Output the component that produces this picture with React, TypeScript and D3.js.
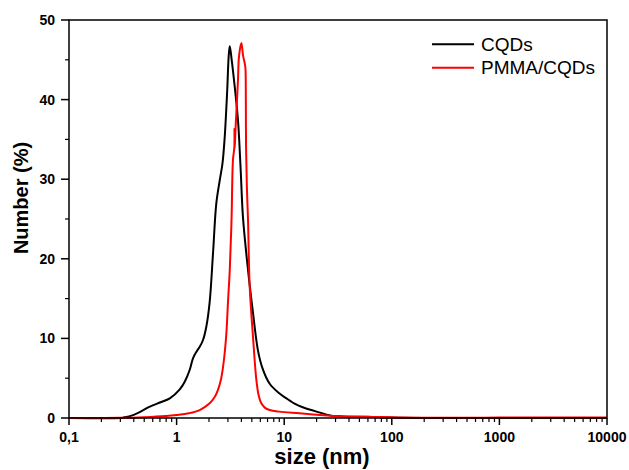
import React from "react";
import * as d3 from "d3";

// ---- data ----
const cqdSize = [0.1, 0.3, 0.32, 0.4, 0.564, 0.7, 0.865, 1.07, 1.19, 1.32, 1.42, 1.53, 1.65, 1.76, 1.89, 2.03, 2.18, 2.34, 2.52, 2.67, 2.8, 2.95, 3.05, 3.12, 3.25, 3.47, 3.72, 3.93, 4.14, 4.61, 5.13, 5.7, 6.3, 7.33, 9.0, 10.4, 12.9, 14.9, 20, 27.3, 35, 60, 100, 200, 10000];
const cqdNumber = [0, 0, 0.05, 0.4, 1.42, 1.95, 2.47, 3.6, 4.56, 6.0, 7.5, 8.33, 9.0, 9.8, 11.5, 14.6, 20.7, 27.0, 29.9, 32.0, 35.3, 41.0, 45.5, 46.7, 45.0, 41.6, 37.4, 31.5, 25.2, 18.6, 13.2, 8.5, 6.2, 4.3, 3.1, 2.5, 1.7, 1.35, 0.8, 0.3, 0.2, 0.15, 0.05, 0, 0];

const pmmaSize = [0.1, 0.3, 0.5, 0.8, 1.0, 1.3, 1.64, 2.03, 2.25, 2.42, 2.58, 2.7, 2.8, 2.9, 3.01, 3.12, 3.24, 3.34, 3.44, 3.45, 3.47, 3.52, 3.59, 3.72, 3.8, 4.0, 4.15, 4.29, 4.36, 4.4, 4.42, 4.5, 4.61, 4.78, 5.13, 5.51, 5.8, 6.13, 6.6, 7.33, 9.0, 13.9, 20, 28.3, 50, 80, 120, 200, 1000, 10000];
const pmmaNumber = [0, 0.02, 0.1, 0.25, 0.38, 0.6, 1.0, 1.84, 2.6, 3.5, 4.8, 6.4, 8.2, 10.6, 14.8, 18.6, 24.9, 32.4, 34.0, 36.3, 33.9, 36.0, 38.3, 42.5, 45.4, 47.1, 45.5, 44.6, 44.0, 40.0, 34.0, 29.0, 24.9, 16.5, 10.2, 4.8, 2.8, 1.84, 1.3, 1.0, 0.8, 0.59, 0.4, 0.25, 0.15, 0.12, 0.05, 0.03, 0.05, 0.05];

const seriesNames = ["CQDs", "PMMA/CQDs"];
const seriesColors = ["#000000", "#ff0000"];

const xTickValues = [0.1, 1, 10, 100, 1000, 10000];
const xTickLabels = ["0,1", "1", "10", "100", "1000", "10000"];
const yTickValues = [0, 10, 20, 30, 40, 50];
const yMinorValues = [5, 15, 25, 35, 45];

const FONT = "'Liberation Sans', Arial, Helvetica, sans-serif";

export default function App() {
  const W = 629, H = 470;
  const left = 69, right = 607, top = 20, bottom = 418;
  const x = d3.scaleLog().domain([0.1, 10000]).range([left, right]);
  const y = d3.scaleLinear().domain([0, 50]).range([bottom, top]);

  const line = d3
    .line<[number, number]>()
    .x((d) => x(d[0]))
    .y((d) => y(d[1]))
    .curve(d3.curveCatmullRom.alpha(0.5));

  const cqd: [number, number][] = cqdSize.map((s, i) => [s, cqdNumber[i]]);
  const pmma: [number, number][] = pmmaSize.map((s, i) => [s, pmmaNumber[i]]);

  const xMinor: number[] = [];
  for (let dec = 0.1; dec < 10000; dec *= 10) {
    for (let k = 2; k <= 9; k++) xMinor.push(dec * k);
  }

  return (
    <svg
      width={W}
      height={H}
      style={{ position: "absolute", left: 0, top: 0, background: "#fff" }}
      fontFamily={FONT}
    >
      <rect x={0} y={0} width={W} height={H} fill="#fff" />
      {/* curves */}
      <path d={line(cqd) || ""} fill="none" stroke={seriesColors[0]} strokeWidth={2} />
      <path d={line(pmma) || ""} fill="none" stroke={seriesColors[1]} strokeWidth={2} />

      {/* frame */}
      <rect x={left} y={top} width={right - left} height={bottom - top} fill="none" stroke="#000" strokeWidth={1.5} />

      {/* x ticks */}
      {xTickValues.map((v, i) => (
        <g key={"xt" + i}>
          <line x1={x(v)} x2={x(v)} y1={bottom} y2={bottom + 7} stroke="#000" strokeWidth={1.5} />
          <text x={x(v)} y={442} textAnchor="middle" fontSize={14} fontWeight="bold">
            {xTickLabels[i]}
          </text>
        </g>
      ))}
      {xMinor.map((v, i) => (
        <line key={"xm" + i} x1={x(v)} x2={x(v)} y1={bottom} y2={bottom + 4} stroke="#000" strokeWidth={1.2} />
      ))}

      {/* y ticks */}
      {yTickValues.map((v, i) => (
        <g key={"yt" + i}>
          <line x1={left - 8} x2={left} y1={y(v)} y2={y(v)} stroke="#000" strokeWidth={1.5} />
          <text x={55} y={y(v) + 5} textAnchor="end" fontSize={14} fontWeight="bold">
            {String(v)}
          </text>
        </g>
      ))}
      {yMinorValues.map((v, i) => (
        <line key={"ym" + i} x1={left - 4} x2={left} y1={y(v)} y2={y(v)} stroke="#000" strokeWidth={1.2} />
      ))}

      {/* axis titles */}
      <text x={322} y={464} textAnchor="middle" fontSize={22} fontWeight="bold">
        size (nm)
      </text>
      <text
        transform="translate(28,198) rotate(-90)"
        textAnchor="middle"
        fontSize={20}
        fontWeight="bold"
      >
        Number (%)
      </text>

      {/* legend */}
      {seriesNames.map((n, i) => (
        <g key={"lg" + i}>
          <line x1={432} x2={474} y1={44.3 + i * 23.4} y2={44.3 + i * 23.4} stroke={seriesColors[i]} strokeWidth={2} />
          <text x={481} y={51 + i * 23.4} fontSize={19}>
            {n}
          </text>
        </g>
      ))}
    </svg>
  );
}
